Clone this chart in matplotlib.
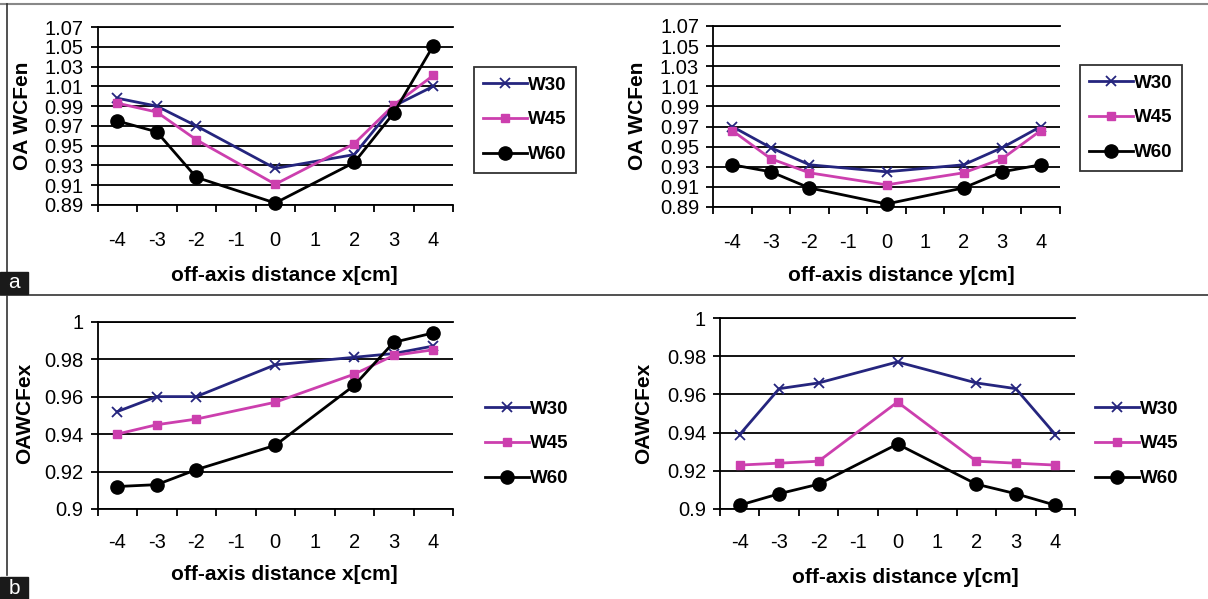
import numpy as np
import matplotlib
matplotlib.use('Agg')
from matplotlib import pyplot as plt
from matplotlib.lines import Line2D
from matplotlib.patches import Rectangle

plt.rcParams['font.family'] = ['Liberation Sans', 'DejaVu Sans']

# measured positions (cm) -- -1 and 1 have no data
xs = [-4, -3, -2, 0, 2, 3, 4]
cats = ['-4', '-3', '-2', '-1', '0', '1', '2', '3', '4']
series = ['W30', 'W45', 'W60']

# a) entrance wedge factor, x and y direction
wcfen_x_w30 = [0.998, 0.990, 0.970, 0.927, 0.941, 0.990, 1.010]
wcfen_x_w45 = [0.993, 0.984, 0.956, 0.911, 0.952, 0.991, 1.021]
wcfen_x_w60 = [0.975, 0.964, 0.918, 0.892, 0.933, 0.983, 1.051]

wcfen_y_w30 = [0.970, 0.949, 0.932, 0.925, 0.932, 0.949, 0.970]
wcfen_y_w45 = [0.966, 0.938, 0.924, 0.912, 0.924, 0.938, 0.966]
wcfen_y_w60 = [0.932, 0.925, 0.909, 0.893, 0.909, 0.925, 0.932]

# b) exit wedge factor, x and y direction
wcfex_x_w30 = [0.952, 0.960, 0.960, 0.977, 0.981, 0.983, 0.987]
wcfex_x_w45 = [0.940, 0.945, 0.948, 0.957, 0.972, 0.982, 0.985]
wcfex_x_w60 = [0.912, 0.913, 0.921, 0.934, 0.966, 0.989, 0.994]

wcfex_y_w30 = [0.939, 0.963, 0.966, 0.977, 0.966, 0.963, 0.939]
wcfex_y_w45 = [0.923, 0.924, 0.925, 0.956, 0.925, 0.924, 0.923]
wcfex_y_w60 = [0.902, 0.908, 0.913, 0.934, 0.913, 0.908, 0.902]

yt_a = [0.89, 0.91, 0.93, 0.95, 0.97, 0.99, 1.01, 1.03, 1.05, 1.07]
yt_a_lbl = ['0.89', '0.91', '0.93', '0.95', '0.97', '0.99', '1.01', '1.03', '1.05', '1.07']
yt_b = [0.9, 0.92, 0.94, 0.96, 0.98, 1.0]
yt_b_lbl = ['0.9', '0.92', '0.94', '0.96', '0.98', '1']

W, H = 1208, 599
colors = ['#25257e', '#cc3fae', '#000000']
markers = [dict(marker='x', ms=7, mew=1.3),
           dict(marker='s', ms=6),
           dict(marker='o', ms=9.5)]

fig = plt.figure(figsize=(W / 100, H / 100), dpi=100)


def px_axes(x0, x1, ytop, ybot):
    return fig.add_axes([x0 / W, 1 - ybot / H, (x1 - x0) / W, (ybot - ytop) / H])


def panel(ax, data, yt, ylbl, ylabel, xlabel, ylab_px, xlab_px, leg_px, frame, lblpad):
    for vals, c, mk, name in zip(data, colors, markers, series):
        ax.plot(xs, vals, color=c, lw=2, label=name, clip_on=False, zorder=3, **mk)
    ax.set_xlim(-4.5, 4.5)
    ax.set_ylim(yt[0], yt[-1])
    ax.set_yticks(yt)
    ax.set_yticklabels(ylbl)
    ax.set_xticks(range(-4, 5))
    ax.set_xticklabels(cats)
    ax.set_xticks(np.arange(-4.5, 5, 1), minor=True)
    ax.tick_params(axis='x', which='major', length=0, pad=lblpad, labelsize=14.5)
    ax.tick_params(axis='x', which='minor', length=5, width=1.3, direction='out')
    ax.tick_params(axis='y', length=5, width=1.3, direction='out', pad=5, labelsize=14.5)
    ax.grid(axis='y', color='black', lw=1.3)
    ax.set_axisbelow(True)
    ax.spines['right'].set_visible(False)
    for s in ['left', 'bottom', 'top']:
        ax.spines[s].set_linewidth(1.3)
    ax.set_ylabel(ylabel, fontsize=15, fontweight='bold')
    ax.set_xlabel(xlabel, fontsize=15, fontweight='bold')
    bb = ax.get_position()
    # ylabel coords = right edge of rotated text, xlabel coords = top of text
    ax.yaxis.set_label_coords((ylab_px[0] / W - bb.x0) / bb.width,
                              ((1 - ylab_px[1] / H) - bb.y0) / bb.height)
    ax.xaxis.set_label_coords((xlab_px[0] / W - bb.x0) / bb.width,
                              ((1 - xlab_px[1] / H) - bb.y0) / bb.height)
    leg = ax.legend(loc='upper left', bbox_to_anchor=(leg_px[0] / W, 1 - leg_px[1] / H),
                    bbox_transform=fig.transFigure, frameon=frame, fancybox=False,
                    edgecolor='black', handlelength=2.3, handletextpad=0.1,
                    labelspacing=0.95, borderpad=0.5, borderaxespad=0,
                    prop={'size': 13.5, 'weight': 'bold'})
    leg.get_frame().set_linewidth(1.3)


ax1 = px_axes(97.5, 453, 27, 205)
panel(ax1, [wcfen_x_w30, wcfen_x_w45, wcfen_x_w60], yt_a, yt_a_lbl,
      'OA WCFen', 'off-axis distance x[cm]', (32, 116), (284, 266), (474, 67), True, 19)

ax2 = px_axes(713, 1060, 26, 207)
panel(ax2, [wcfen_y_w30, wcfen_y_w45, wcfen_y_w60], yt_a, yt_a_lbl,
      'OA WCFen', 'off-axis distance y[cm]', (647, 116), (901, 266), (1080, 65), True, 19)

ax3 = px_axes(97.5, 453, 321.7, 509)
panel(ax3, [wcfex_x_w30, wcfex_x_w45, wcfex_x_w60], yt_b, yt_b_lbl,
      'OAWCFex', 'off-axis distance x[cm]', (34, 413), (284, 565), (476, 391), False, 17)

ax4 = px_axes(720, 1075, 318, 509)
panel(ax4, [wcfex_y_w30, wcfex_y_w45, wcfex_y_w60], yt_b, yt_b_lbl,
      'OAWCFex', 'off-axis distance y[cm]', (653, 413), (905, 568), (1086, 391), False, 17)

# figure frame lines and panel tags
fig.add_artist(Line2D([0, 1], [1 - 4 / H, 1 - 4 / H], color='#888888', lw=1.5))
fig.add_artist(Line2D([6.5 / W, 6.5 / W], [1 - 4 / H, 1 - 575 / H], color='#333333', lw=1.2))
fig.add_artist(Line2D([0, 1], [1 - 294.5 / H, 1 - 294.5 / H], color='#333333', lw=1.2))
for tag, ytop in [('a', 272), ('b', 577)]:
    fig.add_artist(Rectangle((0, 1 - (ytop + 22) / H), 28 / W, 22 / H,
                             transform=fig.transFigure, color='#1a1a1a', zorder=5))
    fig.text(14 / W, 1 - (ytop + 11) / H, tag, color='white', fontsize=15,
             ha='center', va='center', zorder=6)

fig.savefig('out.png', dpi=100)
